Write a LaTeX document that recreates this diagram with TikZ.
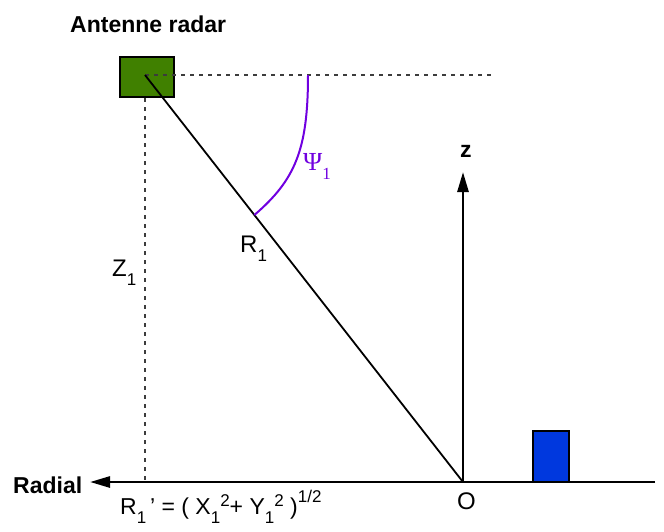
\documentclass[tikz,border=0pt]{standalone}
\usepackage{fontspec}
\setmainfont{Liberation Sans}
\newfontfamily\greekfont{Liberation Serif}
\usepackage{xcolor}
\usetikzlibrary{
  arrows.meta,
  calc,
  positioning
}
\definecolor{antgreen}{RGB}{64,128,0}
\definecolor{targetblue}{RGB}{0,56,222}
\definecolor{psiviolet}{RGB}{112,0,224}
\definecolor{inkgray}{RGB}{60,60,60}
\newcommand{\lowtxt}[1]{\raisebox{-9pt}{\fontsize{17pt}{17pt}\selectfont #1}}
\newcommand{\hightxt}[2][8pt]{\raisebox{#1}{\fontsize{17pt}{17pt}\selectfont #2}}
\tikzset{
  antbox/.style={draw=black,line width=2.5pt,fill=antgreen,
    minimum width=54pt,minimum height=40pt,inner sep=0pt},
  targetbox/.style={draw=black,line width=2.5pt,fill=targetblue,
    minimum width=36pt,minimum height=51pt,inner sep=0pt},
  axisflow/.style={-{Triangle[length=20pt,width=11pt]},line width=2.7pt,draw=black},
  rayline/.style={line width=1.8pt,draw=black},
  guideline/.style={line width=1.4pt,draw=inkgray,dash pattern=on 4pt off 5pt},
  psiarc/.style={line width=2pt,draw=psiviolet},
  lab/.style={font=\fontsize{24pt}{24pt}\selectfont,anchor=base west,inner sep=0pt},
  boldlab/.style={font=\fontsize{23pt}{23pt}\selectfont\bfseries,anchor=base west,inner sep=0pt}
}
\begin{document}
\begin{tikzpicture}[x=1pt,y=-1pt]
  \useasboundingbox (0,0) rectangle (664,531);
  \coordinate (ant) at (145,75);
  \coordinate (origin) at (463,482);
  \coordinate (hend) at (494,75);
  \coordinate (axisend) at (655,482);
  \coordinate (radialtip) at (90,482);
  \coordinate (ztip) at (463,172);
  \coordinate (foot) at (ant |- origin);
  \coordinate (psitop) at (308,75);
  \coordinate (psiend) at ($(ant)!0.344!(origin)$);
  % boxes
  \node[targetbox] (target) at (551,456.5) {};
  \node[antbox] (antenna) at (147,77) {};
  % guides
  \draw[guideline] (ant)--(hend);
  \draw[guideline] (antenna.south -| ant)--(foot);
  % axes and ray
  \draw[axisflow] (axisend)--(radialtip);
  \draw[axisflow] (origin)--(ztip);
  \draw[rayline] (ant)--(origin);
  \draw[psiarc] (psitop) .. controls (308,150) and (295,180) .. (psiend);
  % labels
  \node[boldlab] (title) at (70,32) {Antenne radar};
  \node[boldlab] (radial) at (13,493) {Radial};
  \node[boldlab] (zlab) at (460,157) {z};
  \node[lab] (olab) at (457,509) {O};
  \node[lab] (rlab) at (240,252) {R\lowtxt{1}};
  \node[lab] (zonelab) at (112,276) {Z\lowtxt{1}};
  \node[lab,text=psiviolet,font=\fontsize{26pt}{26pt}\selectfont\greekfont] (psilab) at (303,170) {Ψ\lowtxt{1}};
  \node[lab,font=\fontsize{23pt}{23pt}\selectfont] (rprime) at (120,514)
    {R\lowtxt{1}\,' = ( X\lowtxt{1}\hightxt{2}+ Y\lowtxt{1}\hightxt{2} )\hightxt[12pt]{1/2}};
\end{tikzpicture}
\end{document}
